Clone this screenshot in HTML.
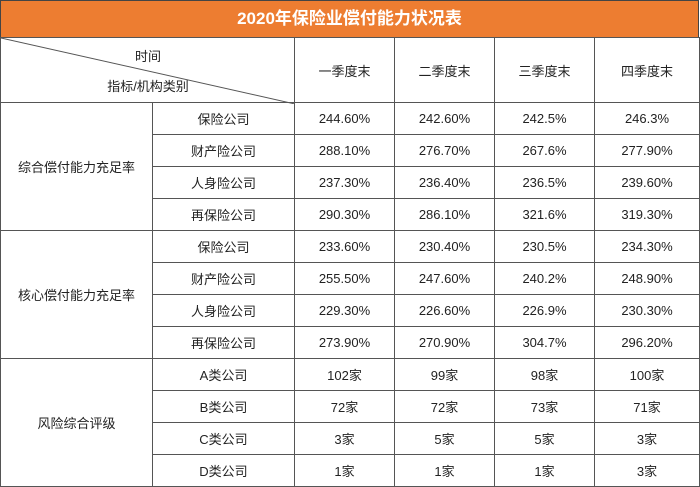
<!DOCTYPE html>
<html><head><meta charset="utf-8">
<style>
html,body{margin:0;padding:0;background:#fff;width:700px;height:487px;overflow:hidden}
body{font-family:"Liberation Sans","Noto Sans CJK SC",sans-serif;color:#222}
.title{position:absolute;left:0;top:0;width:697px;height:36px;background:#ED7D31;border:1px solid #444;border-bottom:none;color:#fff;font-weight:bold;font-size:17px;line-height:36px;text-align:center}
table{position:absolute;left:0;top:37px;border-collapse:collapse;table-layout:fixed;width:699px}
td{border:1.5px solid #555;text-align:center;font-size:13px;padding:0;height:31px}
tr.hdr td{height:64px}
.diag{position:relative}
.diag svg{position:absolute;left:0;top:0}
.t1{position:absolute;left:0;width:294px;top:8px;text-align:center}
.t2{position:absolute;left:0;width:294px;top:38px;text-align:center}
</style></head><body>
<div class="title">2020年保险业偿付能力状况表</div>
<table>
<colgroup><col style="width:152px"><col style="width:142px"><col style="width:100px"><col style="width:100px"><col style="width:100px"><col style="width:105px"></colgroup>
<tr class="hdr">
<td colspan="2" class="diag">
<svg width="294" height="66"><line x1="0" y1="0" x2="294" y2="66" stroke="#555" stroke-width="1"/></svg>
<div class="t1">时间</div>
<div class="t2">指标/机构类别</div>
</td>
<td>一季度末</td>
<td>二季度末</td>
<td>三季度末</td>
<td>四季度末</td>
</tr>
<tr><td rowspan="4">综合偿付能力充足率</td><td>保险公司</td><td>244.60%</td><td>242.60%</td><td>242.5%</td><td>246.3%</td></tr>
<tr><td>财产险公司</td><td>288.10%</td><td>276.70%</td><td>267.6%</td><td>277.90%</td></tr>
<tr><td>人身险公司</td><td>237.30%</td><td>236.40%</td><td>236.5%</td><td>239.60%</td></tr>
<tr><td>再保险公司</td><td>290.30%</td><td>286.10%</td><td>321.6%</td><td>319.30%</td></tr>
<tr><td rowspan="4">核心偿付能力充足率</td><td>保险公司</td><td>233.60%</td><td>230.40%</td><td>230.5%</td><td>234.30%</td></tr>
<tr><td>财产险公司</td><td>255.50%</td><td>247.60%</td><td>240.2%</td><td>248.90%</td></tr>
<tr><td>人身险公司</td><td>229.30%</td><td>226.60%</td><td>226.9%</td><td>230.30%</td></tr>
<tr><td>再保险公司</td><td>273.90%</td><td>270.90%</td><td>304.7%</td><td>296.20%</td></tr>
<tr><td rowspan="4">风险综合评级</td><td>A类公司</td><td>102家</td><td>99家</td><td>98家</td><td>100家</td></tr>
<tr><td>B类公司</td><td>72家</td><td>72家</td><td>73家</td><td>71家</td></tr>
<tr><td>C类公司</td><td>3家</td><td>5家</td><td>5家</td><td>3家</td></tr>
<tr><td>D类公司</td><td>1家</td><td>1家</td><td>1家</td><td>3家</td></tr>
</table>
</body></html>
